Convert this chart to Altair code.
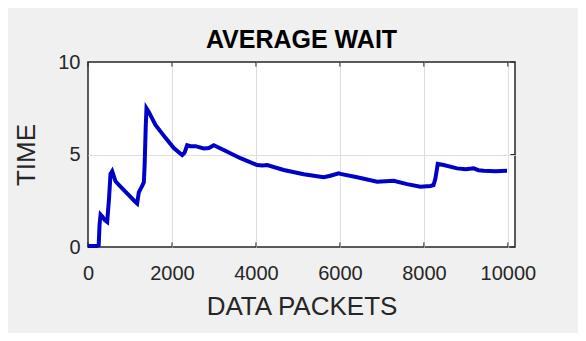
import altair as alt
import pandas as pd

# Data
packets = [0, 100, 200, 255, 275, 300, 340, 400, 457, 500, 536, 576, 655, 814, 972, 1100,
           1170, 1210, 1290, 1330, 1350, 1375, 1393, 1448, 1607, 1845, 2043, 2243, 2300,
           2362, 2440, 2560, 2757, 2880, 2995, 3233, 3630, 4028, 4150, 4267, 4662, 5138,
           5614, 5774, 5970, 6012, 6410, 6886, 7280, 7600, 7917, 8155, 8230, 8274, 8310,
           8330, 8470, 8790, 9000, 9185, 9300, 9424, 9700, 9980]
wait = [0.05, 0.05, 0.05, 0.1, 1.2, 1.75, 1.65, 1.45, 1.35, 2.6, 3.95, 4.1, 3.55, 3.17,
        2.8, 2.5, 2.35, 2.95, 3.3, 3.5, 4.5, 6.5, 7.5, 7.3, 6.6, 5.9, 5.35, 4.97, 5.1,
        5.5, 5.45, 5.45, 5.33, 5.35, 5.5, 5.24, 4.8, 4.43, 4.4, 4.43, 4.16, 3.93, 3.77,
        3.85, 3.98, 3.95, 3.77, 3.53, 3.58, 3.4, 3.26, 3.3, 3.35, 3.7, 4.2, 4.49, 4.43,
        4.25, 4.2, 4.25, 4.15, 4.12, 4.1, 4.12]

x_ticks = [0, 2000, 4000, 6000, 8000, 10000]
y_ticks = [0, 5, 10]
x_max = 10170
y_max = 10

df = pd.DataFrame({"packets": packets, "wait": wait})
xt = pd.DataFrame({"t": x_ticks})
yt = pd.DataFrame({"t": y_ticks})

FONT = "Liberation Sans"
FRAME = "#262626"
GRID = "#dedede"

xs = alt.Scale(domain=[0, x_max], nice=False, zero=False)
ys = alt.Scale(domain=[0, y_max], nice=False)

# hide grid lines that would sit on the frame
edge_grid = {"condition": {"test": f"datum.value <= 0 || datum.value >= {y_max}",
                           "value": "transparent"}, "value": GRID}
xa = alt.Axis(values=x_ticks, title="DATA PACKETS", format="d", grid=True,
              gridColor={"condition": {"test": "datum.value <= 0",
                                       "value": "transparent"}, "value": GRID},
              ticks=False, domain=False, labelFlush=False,
              labelPadding=16, titlePadding=10)
ya = alt.Axis(values=y_ticks, title="TIME", grid=True, gridColor=edge_grid,
              ticks=False, domain=False, labelPadding=8, titlePadding=18)

line = alt.Chart(df).mark_line(color="#0000c8", strokeWidth=4).encode(
    x=alt.X("packets:Q", scale=xs, axis=xa),
    y=alt.Y("wait:Q", scale=ys, axis=ya),
)

# inward tick marks (MATLAB style)
tick_bottom = alt.Chart(xt).mark_rule(color=FRAME, strokeWidth=1).encode(
    x=alt.X("t:Q", scale=xs, axis=xa),
    y=alt.YDatum(0, scale=ys, axis=ya), y2=alt.datum(0.25))
tick_top = alt.Chart(xt).mark_rule(color=FRAME, strokeWidth=1).encode(
    x=alt.X("t:Q", scale=xs, axis=xa),
    y=alt.YDatum(y_max, scale=ys, axis=ya), y2=alt.datum(y_max - 0.25))
tick_right = alt.Chart(yt).mark_rule(color=FRAME, strokeWidth=1).encode(
    y=alt.Y("t:Q", scale=ys, axis=ya),
    x=alt.XDatum(x_max, scale=xs, axis=xa), x2=alt.datum(x_max - 110))

chart = alt.layer(
    line, tick_bottom, tick_top, tick_right
).properties(
    width=427, height=185,
    title=alt.TitleParams("AVERAGE WAIT", fontSize=25, font=FONT, fontWeight="bold",
                          color="#000000", offset=-1, anchor="middle"),
    autosize=alt.AutoSizeParams(type="none"),
    padding={"left": 80, "top": 54, "right": 63, "bottom": 86},
).configure(
    background="#f0f0f0",
).configure_view(
    fill="#ffffff", stroke=FRAME, strokeWidth=1.5,
).configure_axis(
    labelFont=FONT, titleFont=FONT, labelFontSize=20, titleFontSize=26,
    labelColor="#262626", titleColor="#262626", titleFontWeight="normal",
    gridWidth=1,
)

chart.save("out.html", embed_options={"renderer": "svg", "actions": False})
